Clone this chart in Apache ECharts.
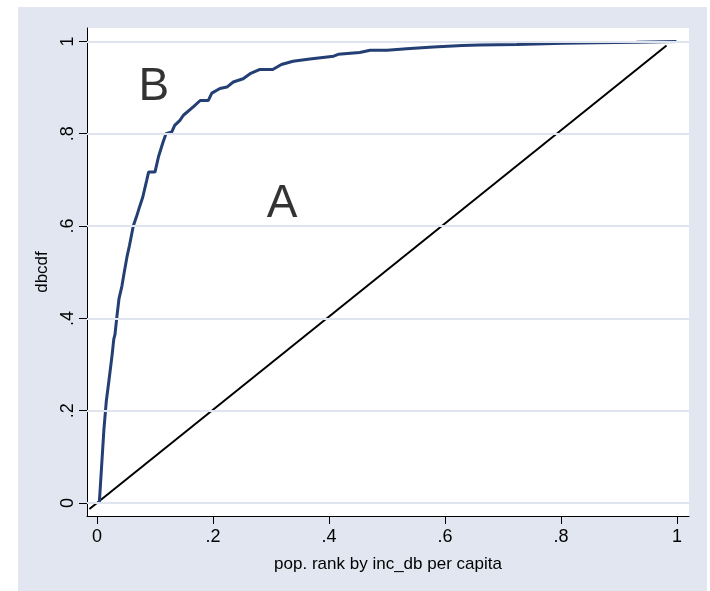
<!DOCTYPE html>
<html>
<head>
<meta charset="utf-8">
<title>dbcdf</title>
<script src="https://cdn.jsdelivr.net/npm/echarts@6/dist/echarts.min.js"></script>
<style>
  html, body { margin: 0; padding: 0; background: #fff; }
  #main { position: absolute; left: 18px; top: 7px; width: 689px; height: 584px; background: #e1e6f0; }
</style>
</head>
<body>
<div id="main"></div>
<script type="text/javascript">
// population rank (x) and cumulative share (y)
var rankX = [0.004, 0.008, 0.012, 0.016, 0.0207, 0.026, 0.029, 0.031, 0.034, 0.038,
             0.043, 0.047, 0.052, 0.056, 0.0626, 0.068, 0.073, 0.079, 0.0857, 0.089,
             0.100, 0.106, 0.114, 0.119, 0.129, 0.134, 0.143, 0.149, 0.166, 0.178,
             0.192, 0.198, 0.212, 0.224, 0.235, 0.252, 0.264, 0.280, 0.303, 0.318,
             0.338, 0.367, 0.408, 0.416, 0.453, 0.471, 0.500, 0.534, 0.580, 0.630,
             0.660, 0.724, 0.804, 0.861, 0.930, 0.999];
var cdfY  = [0, 0.08, 0.16, 0.22, 0.266, 0.32, 0.355, 0.365, 0.40, 0.443,
             0.47, 0.50, 0.535, 0.558, 0.60, 0.62, 0.64, 0.663, 0.699, 0.717,
             0.717, 0.75, 0.782, 0.80, 0.804, 0.818, 0.829, 0.84, 0.858, 0.872,
             0.872, 0.888, 0.898, 0.901, 0.912, 0.919, 0.93, 0.939, 0.939, 0.950,
             0.957, 0.962, 0.968, 0.972, 0.976, 0.981, 0.981, 0.984, 0.988, 0.991,
             0.992, 0.993, 0.996, 0.997, 0.998, 1.0];

// equality line
var diagX = [-0.013, 0.982];
var diagY = [-0.013, 0.991];

// tick values and labels (same on both axes)
var tickVals   = [0, 0.2, 0.4, 0.6, 0.8, 1];
var tickLabels = ['0', '.2', '.4', '.6', '.8', '1'];

// area letters
var noteText = ['B', 'A'];
var noteX    = [0.098, 0.319];
var noteY    = [0.90, 0.647];

function zip(a, b) {
    var out = [];
    for (var i = 0; i < a.length; i++) out.push([a[i], b[i]]);
    return out;
}
function fmt(v) {
    for (var i = 0; i < tickVals.length; i++) {
        if (Math.abs(tickVals[i] - v) < 1e-6) return tickLabels[i];
    }
    return '';
}

var font = "'Liberation Sans', Arial, sans-serif";
var myChart = echarts.init(document.getElementById('main'));

var option = {
    animation: false,
    textStyle: { fontFamily: font },
    grid: {
        left: 69, top: 21, right: 18, bottom: 75,
        show: true, backgroundColor: '#fff', borderWidth: 0
    },
    xAxis: {
        type: 'value',
        min: -0.0172, max: 1.0207,
        name: 'pop. rank by inc_db per capita',
        nameLocation: 'middle',
        nameGap: 40,
        nameTextStyle: { color: '#000', fontSize: 17, fontFamily: font },
        axisLine: { show: true, onZero: false, lineStyle: { color: '#000', width: 1 } },
        axisTick: { show: true, length: 8, customValues: tickVals, lineStyle: { color: '#000' } },
        axisLabel: { customValues: tickVals, formatter: fmt, color: '#000', fontSize: 18, margin: 12, fontFamily: font },
        splitLine: { show: false }
    },
    yAxis: {
        type: 'value',
        min: -0.028, max: 1.029,
        name: 'dbcdf',
        nameLocation: 'middle',
        nameGap: 31,
        nameRotate: 90,
        nameTextStyle: { color: '#000', fontSize: 17, fontFamily: font },
        axisLine: { show: true, onZero: false, lineStyle: { color: '#000', width: 1 } },
        axisTick: { show: true, length: 8, customValues: tickVals, lineStyle: { color: '#000' } },
        axisLabel: { customValues: tickVals, formatter: fmt, rotate: 90, color: '#000', fontSize: 18, margin: 10, fontFamily: font },
        splitLine: { show: false }
    },
    series: [
        {
            type: 'line',
            name: 'grid',
            data: [],
            silent: true,
            markLine: {
                silent: true,
                symbol: 'none',
                label: { show: false },
                lineStyle: { color: '#dfe4ee', width: 2, type: 'solid' },
                data: tickVals.map(function (v) { return { yAxis: v }; })
            },
            z: 1
        },
        {
            type: 'line',
            name: 'equality',
            data: zip(diagX, diagY),
            showSymbol: false,
            lineStyle: { color: '#000', width: 2 },
            z: 2
        },
        {
            type: 'line',
            name: 'dbcdf',
            data: zip(rankX, cdfY),
            showSymbol: false,
            lineStyle: { color: '#233f73', width: 3 },
            z: 3
        },
        {
            type: 'scatter',
            name: 'notes',
            data: zip(noteX, noteY),
            symbolSize: 0,
            silent: true,
            label: {
                show: true,
                position: 'inside',
                formatter: function (p) { return noteText[p.dataIndex]; },
                color: '#000',
                fontSize: 46,
                fontFamily: font
            },
            z: 4
        }
    ]
};

myChart.setOption(option);
</script>
</body>
</html>
